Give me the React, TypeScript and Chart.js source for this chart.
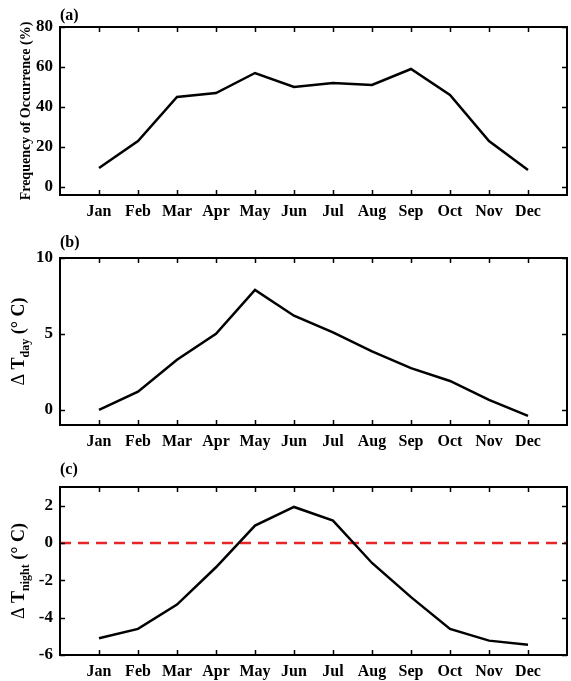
import React, { useEffect, useRef } from 'react';
import { Chart, registerables } from 'chart.js';

Chart.register(...registerables);

const months = ['Jan', 'Feb', 'Mar', 'Apr', 'May', 'Jun', 'Jul', 'Aug', 'Sep', 'Oct', 'Nov', 'Dec'];
const monthPositions = [1, 2, 3, 4, 5, 6, 7, 8, 9, 10, 11, 12];

const freqValues = [9.5, 23, 45, 47, 57, 50, 52, 51, 59, 46, 23, 8.5];
const freqTicks = [0, 20, 40, 60, 80];

const dayValues = [0, 1.2, 3.3, 5.0, 7.9, 6.2, 5.1, 3.85, 2.75, 1.9, 0.65, -0.4];
const dayTicks = [0, 5, 10];

const nightValues = [-5.1, -4.6, -3.3, -1.3, 0.93, 1.93, 1.2, -1.07, -2.9, -4.6, -5.23, -5.45];
const nightTicks = [-6, -4, -2, 0, 2];

const zeroLineX = [0, 13];
const zeroLineY = [0, 0];

const FONT = "'Liberation Serif', 'Times New Roman', serif";

type TitlePart = { text: string; size: number; shift: number; weight: string };

type PanelSpec = {
  key: string;
  top: number;
  height: number;
  padTop: number;
  xAxisH: number;
  yMin: number;
  yMax: number;
  values: number[];
  yTicks: number[];
  label: string;
  labelY: number;
  title: TitlePart[];
  titleX: number;
  zeroLine: boolean;
};

const panels: PanelSpec[] = [
  {
    key: 'a', top: 0, height: 230, padTop: 27, xAxisH: 35, yMin: -4, yMax: 80,
    values: freqValues, yTicks: freqTicks, label: '(a)', labelY: 16,
    title: [{ text: 'Frequency of Occurrence (%)', size: 14, shift: 0, weight: 'bold' }], titleX: 30, zeroLine: false,
  },
  {
    key: 'b', top: 230, height: 225, padTop: 28, xAxisH: 30, yMin: -1, yMax: 10,
    values: dayValues, yTicks: dayTicks, label: '(b)', labelY: 13,
    title: [
      { text: 'Δ', size: 18, shift: 0, weight: 'normal' },
      { text: ' T', size: 18, shift: 0, weight: 'bold' },
      { text: 'day', size: 12, shift: 5, weight: 'bold' },
      { text: ' (° C)', size: 18, shift: 0, weight: 'bold' },
    ], titleX: 24, zeroLine: false,
  },
  {
    key: 'c', top: 455, height: 226, padTop: 32, xAxisH: 26, yMin: -6, yMax: 3,
    values: nightValues, yTicks: nightTicks, label: '(c)', labelY: 15,
    title: [
      { text: 'Δ', size: 18, shift: 0, weight: 'normal' },
      { text: ' T', size: 18, shift: 0, weight: 'bold' },
      { text: 'night', size: 12, shift: 5, weight: 'bold' },
      { text: ' (° C)', size: 18, shift: 0, weight: 'bold' },
    ], titleX: 24, zeroLine: true,
  },
];

function makeFramePlugin(p: PanelSpec) {
  return {
    id: 'frame_' + p.key,
    afterDraw(chart: any) {
      const ctx = chart.ctx as CanvasRenderingContext2D;
      const a = chart.chartArea;
      const xs = chart.scales.x;
      const ys = chart.scales.y;
      ctx.save();
      ctx.strokeStyle = '#000';
      ctx.lineWidth = 1.5;
      const tl = 5;
      ctx.beginPath();
      monthPositions.forEach((m) => {
        const px = Math.round(xs.getPixelForValue(m)) + 0.5;
        ctx.moveTo(px, a.bottom);
        ctx.lineTo(px, a.bottom - tl);
        ctx.moveTo(px, a.top);
        ctx.lineTo(px, a.top + tl);
      });
      p.yTicks.forEach((v) => {
        const py = Math.round(ys.getPixelForValue(v)) + 0.5;
        ctx.moveTo(a.left, py);
        ctx.lineTo(a.left + tl, py);
        ctx.moveTo(a.right, py);
        ctx.lineTo(a.right - tl, py);
      });
      ctx.stroke();
      ctx.lineWidth = 2;
      ctx.strokeRect(a.left, a.top, a.right - a.left, a.bottom - a.top);
      ctx.fillStyle = '#000';
      ctx.font = `bold 16px ${FONT}`;
      ctx.textAlign = 'left';
      ctx.textBaseline = 'middle';
      ctx.fillText(p.label, a.left, p.labelY);
      let total = 0;
      p.title.forEach((t) => {
        ctx.font = `${t.weight} ${t.size}px ${FONT}`;
        total += ctx.measureText(t.text).width;
      });
      const midY = (a.top + a.bottom) / 2;
      ctx.translate(p.titleX, midY);
      ctx.rotate(-Math.PI / 2);
      ctx.textBaseline = 'alphabetic';
      let x = -total / 2;
      p.title.forEach((t) => {
        ctx.font = `${t.weight} ${t.size}px ${FONT}`;
        ctx.fillText(t.text, x, t.shift);
        x += ctx.measureText(t.text).width;
      });
      ctx.restore();
    },
  };
}

function Panel({ p }: { p: PanelSpec }) {
  const ref = useRef<HTMLCanvasElement>(null);
  useEffect(() => {
    if (!ref.current) return;
    const datasets: any[] = [
      {
        data: p.values.map((v, i) => ({ x: monthPositions[i], y: v })),
        borderColor: '#000',
        borderWidth: 2.5,
        pointRadius: 0,
        tension: 0,
        fill: false,
      },
    ];
    if (p.zeroLine) {
      datasets.push({
        data: zeroLineX.map((x, i) => ({ x, y: zeroLineY[i] })),
        borderColor: '#e8262a',
        borderWidth: 2.5,
        borderDash: [11, 7],
        pointRadius: 0,
        fill: false,
      });
    }
    const chart = new Chart(ref.current, {
      type: 'line',
      data: { datasets },
      plugins: [makeFramePlugin(p)],
      options: {
        animation: false,
        responsive: false,
        maintainAspectRatio: false,
        events: [],
        layout: { padding: { top: p.padTop, right: 4, left: 0, bottom: 0 } },
        plugins: { legend: { display: false }, tooltip: { enabled: false }, title: { display: false } },
        scales: {
          x: {
            type: 'linear',
            min: 0,
            max: 13,
            grid: { display: false, drawTicks: false },
            border: { display: false },
            afterBuildTicks: (s: any) => { s.ticks = monthPositions.map((v) => ({ value: v })); },
            afterFit: (s: any) => { s.height = p.xAxisH; },
            ticks: {
              autoSkip: false,
              maxRotation: 0,
              padding: 7,
              color: '#000',
              font: { family: FONT, size: 16, weight: 'bold' },
              callback: (v: any) => months[Number(v) - 1] ?? '',
            },
          },
          y: {
            type: 'linear',
            min: p.yMin,
            max: p.yMax,
            grid: { display: false, drawTicks: false },
            border: { display: false },
            afterBuildTicks: (s: any) => { s.ticks = p.yTicks.map((v) => ({ value: v })); },
            afterFit: (s: any) => { s.width = 60; },
            ticks: {
              padding: 7,
              color: '#000',
              font: { family: FONT, size: 17, weight: 'bold' },
              callback: (v: any) => String(v),
            },
          },
        },
      } as any,
    });
    return () => chart.destroy();
  }, [p]);
  return (
    <canvas
      ref={ref}
      width={571}
      height={p.height}
      style={{ position: 'absolute', left: 0, top: p.top, width: 571, height: p.height }}
    />
  );
}

export default function App() {
  return (
    <div style={{ position: 'absolute', left: 0, top: 0, width: 571, height: 681, background: '#fff' }}>
      {panels.map((p) => (
        <Panel key={p.key} p={p} />
      ))}
    </div>
  );
}
